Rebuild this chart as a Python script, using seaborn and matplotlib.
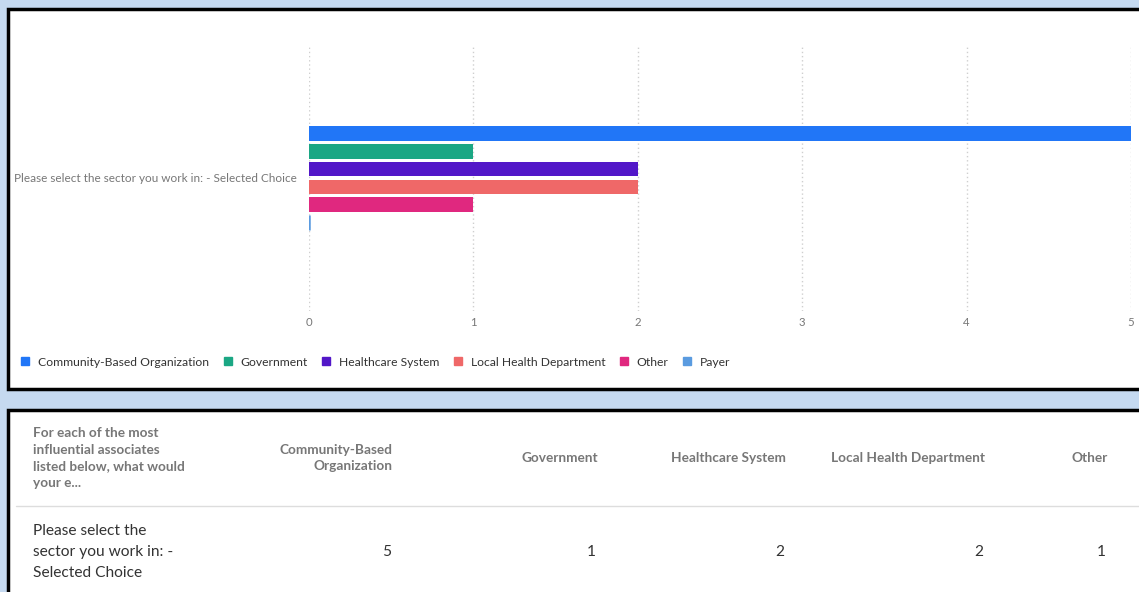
import matplotlib
matplotlib.use("Agg")
import matplotlib.pyplot as plt
from matplotlib.patches import Rectangle
from matplotlib.lines import Line2D
import pandas as pd
import seaborn as sns

# ---- data ----
question = "Please select the sector you work in: - Selected Choice"
sectors = ["Community-Based Organization", "Government", "Healthcare System",
           "Local Health Department", "Other", "Payer"]
counts = [5, 1, 2, 2, 1, 0]
colors = ["#2176f7", "#1ba784", "#5217c8", "#ef6868", "#e0287f", "#5a9be0"]
x_ticks = [0, 1, 2, 3, 4, 5]

table_header = "For each of the most\ninfluential associates\nlisted below, what would\nyour e..."
table_row_label = "Please select the\nsector you work in: -\nSelected Choice"
table_columns = ["Community-Based\nOrganization", "Government", "Healthcare System",
                 "Local Health Department", "Other"]

df = pd.DataFrame({"question": [question] * len(sectors),
                   "sector": sectors, "count": counts})

sns.set_theme(style="white")
plt.rcParams["font.family"] = ["Lato", "DejaVu Sans"]

W, H = 1139, 592
fig = plt.figure(figsize=(W / 100, H / 100), dpi=100)
fig.patch.set_facecolor("#c5d9f0")

def fx(px):
    return px / W

def fy(py):
    return 1 - py / H

# white panels with black borders
for (x0, y0, x1, y1) in [(8, 9, 1150, 389), (8, 410, 1150, 610)]:
    fig.add_artist(Rectangle((fx(x0), fy(y1)), fx(x1 - x0), (y1 - y0) / H,
                             transform=fig.transFigure, facecolor="white",
                             edgecolor="black", linewidth=2.5, zorder=0))

# ---- bar chart ----
ax = fig.add_axes([fx(309), fy(311), fx(1131 - 309), (311 - 45) / H])
ax.set_facecolor("none")
sns.barplot(data=df, x="count", y="question", hue="sector", hue_order=sectors,
            palette=colors, saturation=1, orient="h", width=0.40, gap=0.17,
            ax=ax, legend=False, zorder=3)
for p, c, v in zip(ax.patches, colors, counts):
    if v == 0:
        p.set_edgecolor(c)
        p.set_linewidth(1.8)
    else:
        p.set_linewidth(0)

ax.set_xlim(0, 5)
ax.set_ylim(0.5, -0.5)
ax.set_xticks(x_ticks)
ax.set_xticklabels([str(t) for t in x_ticks])
ax.xaxis.grid(True, linestyle=(0, (1, 2)), color="#cfcfcf", linewidth=1)
ax.yaxis.grid(False)
for s in ax.spines.values():
    s.set_visible(False)
ax.tick_params(axis="x", length=0, pad=4.5, labelsize=8.2, labelcolor="#777777")
ax.tick_params(axis="y", length=0, pad=9, labelsize=8.5, labelcolor="#777777")
ax.set_xlabel("")
ax.set_ylabel("")

handles = [Line2D([], [], marker="s", linestyle="none", markersize=5.5,
                  markerfacecolor=c, markeredgecolor=c) for c in colors]
fig.legend(handles, sectors, loc="center left", bbox_to_anchor=(fx(21), fy(362)),
           ncol=6, frameon=False, fontsize=8.7, handlelength=0.7,
           handletextpad=0.7, columnspacing=1.2, labelcolor="#333333",
           borderaxespad=0, borderpad=0)

# ---- table ----
fig.text(fx(33), fy(458), table_header, ha="left", va="center", fontsize=9.8,
         fontweight="bold", color="#777777", linespacing=1.47)
col_right = [393, 598, 786, 985, 1108]
for name, xr in zip(table_columns, col_right):
    fig.text(fx(xr), fy(458), name, ha="right", va="center", fontsize=9.8,
             fontweight="bold", color="#777777", linespacing=1.47,
             multialignment="right")
fig.add_artist(Line2D([fx(16), fx(1139)], [fy(506), fy(506)],
                      transform=fig.transFigure, color="#dddddd", linewidth=1))
fig.text(fx(33), fy(552), table_row_label, ha="left", va="center", fontsize=11.2,
         color="#333333", linespacing=1.65)
for v, xr in zip(counts[:len(table_columns)], col_right):
    fig.text(fx(xr - 2), fy(552), str(v), ha="right", va="center",
             fontsize=11.2, color="#333333")

fig.savefig("out.png", dpi=100, facecolor=fig.get_facecolor())
